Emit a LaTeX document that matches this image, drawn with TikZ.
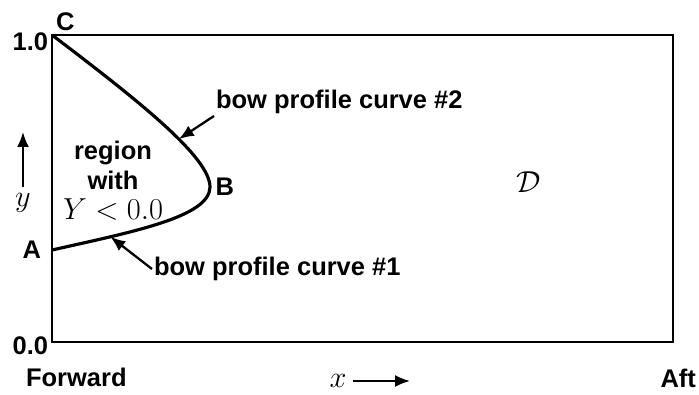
\documentclass[tikz,border=0pt]{standalone}
\usepackage{fontspec}
\setmainfont{Liberation Sans}
\usetikzlibrary{positioning,arrows.meta}

\begin{document}
\begin{tikzpicture}[font=\fontsize{14.5}{17}\selectfont\bfseries,
  frame/.style={line width=1.6pt},
  prof/.style={line width=1.8pt},
  arr/.style={-{Latex[length=3mm,width=2.4mm]}, line width=1.3pt},
  lbl/.style={inner sep=1pt},
  big/.style={font=\fontsize{17.5}{20}\selectfont}]
\useasboundingbox (-1.04,-1.04) rectangle (12.94,6.84);
\coordinate (O) at (0,0);
\coordinate (C) at (0,6.14);
\coordinate (B) at (3.16,3.10);
\coordinate (A) at (0,1.84);
\coordinate (E) at (12.42,6.14);
\draw[frame] (O) rectangle (E);
% bow profile: curve #2 from C to B, curve #1 from B to A
\draw[prof] (C) .. controls (1.7,4.85) and (3.16,3.7) .. (B) coordinate[pos=0.6] (hit2)
  .. controls (3.16,2.5) and (1.6,2.2) .. (A) coordinate[pos=0.75] (hit1);
\node[lbl, anchor=south west] (cl) at (0.04,6.18) {C};
\node[lbl, right=2pt of B] (bl) {B};
\node[lbl, left=5pt of A] (al) {A};
\node[lbl, left=1pt of C, yshift=-4pt] (top) {1.0};
\node[lbl, left=1pt of O, yshift=-2pt] (bot) {0.0};
\node[lbl, anchor=west] (fwd) at (-0.56,-0.70) {Forward};
\node[lbl, anchor=east] (aft) at (12.92,-0.72) {Aft};
\node[big] (dom) at (9.54,3.20) {$\mathcal{D}$};
\node[lbl, align=center] (reg) at (1.22,3.22)
  {region\\with\\{\fontsize{17.5}{20}\selectfont$Y<0.0$}};
% labels of the two curves
\node[lbl, anchor=west] (lab2) at (3.24,4.80) {bow profile curve \#2};
\draw[arr] (lab2.south west) -- (hit2);
\node[lbl, anchor=west] (lab1) at (2.0,1.46) {bow profile curve \#1};
\draw[arr] (lab1.west) -- (hit1);
% axis directions
\node[big] (xl) at (5.72,-0.78) {$x$};
\coordinate (xe) at (7.16,-0.78);
\draw[arr, line width=1.1pt] (xl) -- (xe);
\node[big] (yl) at (-0.58,2.78) {$y$};
\coordinate (ye) at (-0.58,4.2);
\draw[arr, line width=1.1pt] (yl) -- (ye);
\end{tikzpicture}
\end{document}
